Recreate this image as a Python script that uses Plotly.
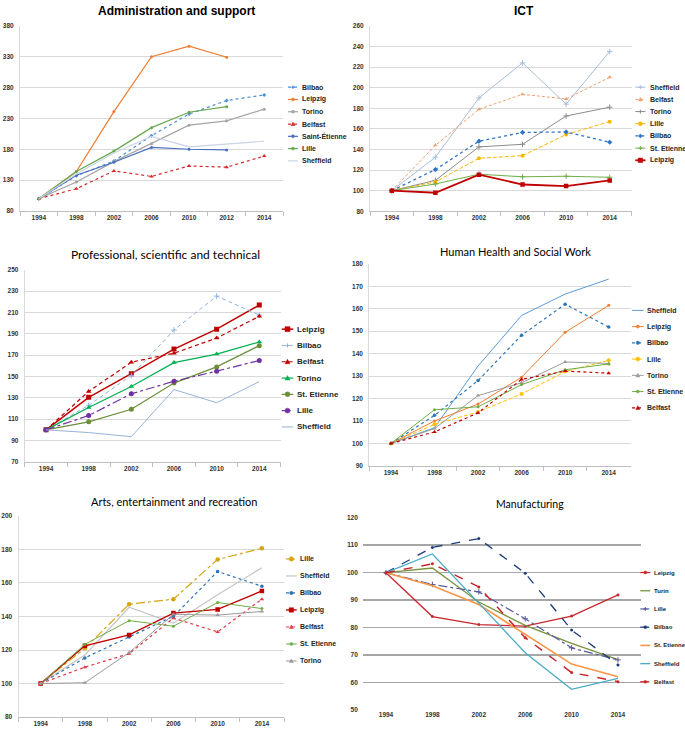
import plotly.graph_objects as go

# ---------------- DATA ----------------
ADMIN_YEARS = ["1994", "1998", "2002", "2006", "2010", "2012", "2014"]
ADMIN_BILBAO = [100, 137, 161, 202, 237, 259, 268]
ADMIN_LEIPZIG = [100, 144, 241, 330, 347, 329, None]
ADMIN_TORINO = [100, 127, 160, 189, 219, 226, 245]
ADMIN_BELFAST = [100, 116, 145, 136, 153, 151, 169]
ADMIN_SAINT_ETIENNE = [100, 138, 159, 183, 180, 179, None]
ADMIN_LILLE = [100, 144, 177, 215, 240, 249, None]
ADMIN_SHEFFIELD = [100, 140, 174, 201, 184, 188, 193]

ICT_YEARS = ["1994", "1998", "2002", "2006", "2010", "2014"]
ICT_SHEFFIELD = [100, 132.5, 190, 224, 184, 235]
ICT_BELFAST = [100, 144, 179, 193.5, 189, 210]
ICT_TORINO = [100, 110, 142.5, 145, 172.5, 181]
ICT_LILLE = [100, 108.5, 131.5, 134, 154.5, 167]
ICT_BILBAO = [100, 120.5, 148, 156.5, 157, 147]
ICT_ST_ETIENNE = [100, 106.5, 116, 113.5, 114, 113]
ICT_LEIPZIG = [100, 98, 115.5, 106, 104.5, 110]

PROF_YEARS = ["1994", "1998", "2002", "2006", "2010", "2014"]
PROF_LEIPZIG = [100, 130.5, 152.6, 175.7, 194.3, 216.9]
PROF_BILBAO = [100, 123, 151, 193.5, 225.3, 207.6]
PROF_BELFAST = [100, 136, 163.4, 171.8, 186, 206.4]
PROF_TORINO = [100, 121, 140.6, 163, 171, 182.3]
PROF_ST_ETIENNE = [100, 107.5, 119.3, 143.8, 159, 178.9]
PROF_LILLE = [100, 113.4, 133.8, 145.5, 155, 165]
PROF_SHEFFIELD = [100, 97.5, 93.6, 137.8, 125.4, 145.2]

HEALTH_YEARS = ["1994", "1998", "2002", "2006", "2010", "2014"]
HEALTH_SHEFFIELD = [100, 107, 134.5, 157, 166.5, 173.2]
HEALTH_LEIPZIG = [100, 110, 117.5, 129.5, 149.5, 161.5]
HEALTH_BILBAO = [100, 112.5, 128, 148.2, 162, 151.8]
HEALTH_LILLE = [100, 108.5, 114, 122, 132, 137]
HEALTH_TORINO = [100, 106.6, 121.3, 127, 136.3, 135.6]
HEALTH_ST_ETIENNE = [100, 115, 116.3, 126.2, 132.8, 135.4]
HEALTH_BELFAST = [100, 105.1, 113.6, 128.5, 132.2, 131.3]

ARTS_YEARS = ["1994", "1998", "2002", "2006", "2010", "2014"]
ARTS_LILLE = [100, 121, 147.3, 150.3, 174, 180.6]
ARTS_SHEFFIELD = [100, 117, 145.5, 136, 153, 169]
ARTS_BILBAO = [100, 115.3, 127.8, 140, 166.8, 158]
ARTS_LEIPZIG = [100, 122.5, 129, 142, 144.2, 155.2]
ARTS_BELFAST = [100, 109.8, 117.8, 139, 130.8, 150.3]
ARTS_ST_ETIENNE = [100, 123.4, 137.5, 134.2, 148.3, 144.7]
ARTS_TORINO = [100, 100.5, 118.5, 141.3, 140.8, 143]

MANUF_YEARS = ["1994", "1998", "2002", "2006", "2010", "2014"]
MANUF_LEIPZIG = [100, 84, 81.1, 80.5, 84.2, 91.9]
MANUF_TURIN = [100, 101.7, 89.3, 80.8, 74.2, 68.3]
MANUF_LILLE = [100, 95.7, 93, 83.2, 72.6, 68.2]
MANUF_BILBAO = [100, 109.2, 112.4, 99.8, 79.1, 66.4]
MANUF_ST_ETIENNE = [100, 95.2, 88.4, 77.5, 66.7, 62.1]
MANUF_SHEFFIELD = [100, 106.8, 88.9, 70.8, 57.5, 61.5]
MANUF_BELFAST = [100, 103.2, 94.8, 76.3, 63.6, 60.3]

# ---------------- GEOMETRY / STYLE ----------------
W, H = 685, 734


def fx(px):
    return px / W


def fy(py):
    return 1 - py / H


# style: (color, dash, width, symbol, msize)
PANELS = [
    dict(title="<b>Administration and support</b>", tfont="Liberation Sans", tsize=12,
         tx=176, ty=7, years=ADMIN_YEARS, x=(20, 283), y=(22, 209), yr=(80, 380), dtick=50,
         leg=dict(x0=288, x1=298, tx=299.5, y0=84, dy=12.4, fs=7),
         series=[
             ("Bilbao", ADMIN_BILBAO, ("#4a8fd4", "dot", 1.2, "diamond", 3)),
             ("Leipzig", ADMIN_LEIPZIG, ("#ed7d31", "solid", 1.2, "circle", 3)),
             ("Torino", ADMIN_TORINO, ("#a5a5a5", "solid", 1.2, "circle", 3)),
             ("Belfast", ADMIN_BELFAST, ("#d42a2a", "dot", 1.2, "triangle-up", 4)),
             ("Saint-Étienne", ADMIN_SAINT_ETIENNE, ("#4a6fc0", "solid", 1.2, "circle", 3)),
             ("Lille", ADMIN_LILLE, ("#6aa84f", "solid", 1.2, "circle", 3)),
             ("Sheffield", ADMIN_SHEFFIELD, ("#c9d3e6", "solid", 1.2, None, 0)),
         ]),
    dict(title="<b>ICT</b>", tfont="Liberation Sans", tsize=12,
         tx=524, ty=7, years=ICT_YEARS, x=(370, 631.5), y=(22, 209.3), yr=(80, 260), dtick=20,
         leg=dict(x0=635.3, x1=645.5, tx=648, y0=84, dy=12.3, fs=7),
         series=[
             ("Sheffield", ICT_SHEFFIELD, ("#a9bcd9", "solid", 1.0, "cross-thin", 4)),
             ("Belfast", ICT_BELFAST, ("#f0a070", "3px,2px", 1.0, "triangle-up", 4)),
             ("Torino", ICT_TORINO, ("#8c8c8c", "solid", 1.0, "cross-thin", 4)),
             ("Lille", ICT_LILLE, ("#f5b800", "4px,2px", 1.0, "circle", 4)),
             ("Bilbao", ICT_BILBAO, ("#2e75c6", "dot", 1.3, "diamond", 4)),
             ("St. Etienne", ICT_ST_ETIENNE, ("#70ad47", "solid", 1.0, "cross-thin", 4)),
             ("Leipzig", ICT_LEIPZIG, ("#c00000", "solid", 1.8, "square", 4.5)),
         ]),
    dict(title="Professional, scientific and technical", tfont="Lato", tsize=12,
         tx=165.5, ty=252.5, years=PROF_YEARS, x=(24.7, 280.6), y=(268.3, 462.3), yr=(70, 250), dtick=20,
         leg=dict(x0=281.7, x1=293.3, tx=295.3, y0=328.3, dy=16.45, fs=8),
         series=[
             ("Leipzig", PROF_LEIPZIG, ("#c00000", "solid", 1.5, "square", 5)),
             ("Bilbao", PROF_BILBAO, ("#8fb4e3", "4px,3px", 1.0, "cross-thin", 4)),
             ("Belfast", PROF_BELFAST, ("#c00000", "4px,3px", 1.2, "triangle-up", 5)),
             ("Torino", PROF_TORINO, ("#00b050", "solid", 1.2, "triangle-up", 5)),
             ("St. Etienne", PROF_ST_ETIENNE, ("#6b8e3a", "solid", 1.2, "circle", 5)),
             ("Lille", PROF_LILLE, ("#7030a0", "dashdot", 1.2, "circle", 5)),
             ("Sheffield", PROF_SHEFFIELD, ("#95b3d7", "solid", 1.0, None, 0)),
         ]),
    dict(title="Human Health and Social Work", tfont="Lato", tsize=11,
         tx=515.3, ty=250, years=HEALTH_YEARS, x=(369.2, 630.5), y=(262.3, 466.3), yr=(90, 180), dtick=10,
         leg=dict(x0=632, x1=643.7, tx=645, y0=309.3, dy=16.4, fs=7),
         series=[
             ("Sheffield", HEALTH_SHEFFIELD, ("#5b9bd5", "solid", 1.0, None, 0)),
             ("Leipzig", HEALTH_LEIPZIG, ("#ed7d31", "solid", 1.0, "circle", 3)),
             ("Bilbao", HEALTH_BILBAO, ("#2e75b6", "dot", 1.2, "circle", 3.5)),
             ("Lille", HEALTH_LILLE, ("#ffc000", "4px,2px", 1.0, "circle", 4)),
             ("Torino", HEALTH_TORINO, ("#9a9a9a", "solid", 1.0, "triangle-up", 4)),
             ("St. Etienne", HEALTH_ST_ETIENNE, ("#70ad47", "solid", 1.0, "circle", 3)),
             ("Belfast", HEALTH_BELFAST, ("#c00000", "dot", 1.2, "triangle-up", 4)),
         ]),
    dict(title="Arts, entertainment and recreation", tfont="Lato", tsize=11,
         tx=174, ty=502.5, years=ARTS_YEARS, x=(18.5, 284), y=(516.7, 720), yr=(80, 200), dtick=20,
         leg=dict(x0=286, x1=296.7, tx=298.3, y0=560.3, dy=17.17, fs=7),
         series=[
             ("Lille", ARTS_LILLE, ("#d4a514", "dashdot", 1.2, "circle", 4.5)),
             ("Sheffield", ARTS_SHEFFIELD, ("#c4c4c4", "solid", 1.2, None, 0)),
             ("Bilbao", ARTS_BILBAO, ("#2e75b6", "dot", 1.2, "circle", 3.5)),
             ("Leipzig", ARTS_LEIPZIG, ("#c00000", "solid", 1.4, "square", 4.5)),
             ("Belfast", ARTS_BELFAST, ("#e03a4a", "dot", 1.2, "triangle-up", 4)),
             ("St. Etienne", ARTS_ST_ETIENNE, ("#70ad47", "solid", 1.0, "circle", 3)),
             ("Torino", ARTS_TORINO, ("#9a9a9a", "solid", 1.0, "triangle-up", 4)),
         ]),
    dict(title="Manufacturing", tfont="Lato", tsize=10.5,
         tx=530.3, ty=505, years=MANUF_YEARS, x=(362.8, 641.2), y=(518.7, 712.7), yr=(50, 120), dtick=10,
         leg=dict(x0=640.3, x1=650.3, tx=651.5, y0=574, dy=18.4, fs=6),
         series=[
             ("Leipzig", MANUF_LEIPZIG, ("#c8282d", "solid", 1.3, "circle", 3)),
             ("Turin", MANUF_TURIN, ("#77933c", "solid", 1.3, None, 0)),
             ("Lille", MANUF_LILLE, ("#5a5aa0", "dashdot", 1.2, "cross-thin", 4)),
             ("Bilbao", MANUF_BILBAO, ("#1f3c78", "dash", 1.3, "circle", 3)),
             ("St. Etienne", MANUF_ST_ETIENNE, ("#f79646", "solid", 1.6, None, 0)),
             ("Sheffield", MANUF_SHEFFIELD, ("#4bacc6", "solid", 1.3, None, 0)),
             ("Belfast", MANUF_BELFAST, ("#c8282d", "dash", 1.5, "circle", 3)),
         ],
         grid="#a6a6a6", gridw=1.5),
]

TICK_FONT = dict(family="Liberation Sans", size=6.5, color="#333333", weight="bold")

fig = go.Figure()
shapes = []
annotations = []
layout = {}


def legend_marker(cx, cy, color, symbol, size):
    r = max(size, 3) / 2.0
    if symbol == "circle":
        shapes.append(dict(type="circle", xref="paper", yref="paper",
                           x0=fx(cx - r), x1=fx(cx + r), y0=fy(cy + r), y1=fy(cy - r),
                           fillcolor=color, line=dict(color=color, width=0.5)))
    elif symbol == "square":
        shapes.append(dict(type="rect", xref="paper", yref="paper",
                           x0=fx(cx - r), x1=fx(cx + r), y0=fy(cy + r), y1=fy(cy - r),
                           fillcolor=color, line=dict(color=color, width=0.5)))
    elif symbol in ("triangle-up", "diamond"):
        if symbol == "triangle-up":
            pts = [(cx, cy - r), (cx + r, cy + r * 0.8), (cx - r, cy + r * 0.8)]
        else:
            pts = [(cx, cy - r), (cx + r, cy), (cx, cy + r), (cx - r, cy)]
        path = "M " + " L ".join(f"{fx(a):.5f},{fy(b):.5f}" for a, b in pts) + " Z"
        shapes.append(dict(type="path", xref="paper", yref="paper", path=path,
                           fillcolor=color, line=dict(color=color, width=0.5)))
    elif symbol == "cross-thin":
        shapes.append(dict(type="line", xref="paper", yref="paper",
                           x0=fx(cx - r), x1=fx(cx + r), y0=fy(cy), y1=fy(cy),
                           line=dict(color=color, width=1)))
        shapes.append(dict(type="line", xref="paper", yref="paper",
                           x0=fx(cx), x1=fx(cx), y0=fy(cy - r), y1=fy(cy + r),
                           line=dict(color=color, width=1)))


for i, p in enumerate(PANELS, start=1):
    xa = "x" if i == 1 else f"x{i}"
    ya = "y" if i == 1 else f"y{i}"
    for name, vals, (color, dash, width, symbol, msize) in p["series"]:
        mode = "lines+markers" if symbol else "lines"
        marker = dict(size=msize, color=color, symbol=symbol or "circle")
        if symbol == "cross-thin":
            marker["line"] = dict(color=color, width=1)
        fig.add_trace(go.Scatter(x=p["years"], y=vals, name=name, mode=mode,
                                 line=dict(color=color, dash=dash, width=width),
                                 marker=marker, xaxis=xa, yaxis=ya, showlegend=False))
    n = len(p["years"])
    grid = p.get("grid", "#d9d9d9")
    manuf = "grid" in p
    layout["xaxis" if i == 1 else f"xaxis{i}"] = dict(
        type="category", domain=[fx(p["x"][0]), fx(p["x"][1])], range=[-0.5, n - 0.5],
        anchor=ya, tickson="boundaries", ticks="" if manuf else "outside", ticklen=4,
        tickcolor="#bfbfbf", showline=not manuf, linecolor="#bfbfbf", linewidth=1,
        showgrid=False, tickfont=TICK_FONT, fixedrange=True)
    layout["yaxis" if i == 1 else f"yaxis{i}"] = dict(
        domain=[fy(p["y"][1]), fy(p["y"][0])], range=list(p["yr"]), dtick=p["dtick"],
        tick0=p["yr"][0], tickmode="linear",
        anchor=xa, showgrid=True, gridcolor=grid, gridwidth=p.get("gridw", 1),
        zeroline=False, showline=not manuf, linecolor="#d9d9d9", ticks="",
        tickfont=TICK_FONT, ticklabelstandoff=4, fixedrange=True)
    annotations.append(dict(text=p["title"], xref="paper", yref="paper", x=fx(p["tx"]), y=fy(p["ty"]),
                            xanchor="center", yanchor="middle", showarrow=False,
                            font=dict(family=p["tfont"], size=p["tsize"], color="#000000")))
    lg = p["leg"]
    for k, (name, vals, (color, dash, width, symbol, msize)) in enumerate(p["series"]):
        cy = lg["y0"] + k * lg["dy"]
        shapes.append(dict(type="line", xref="paper", yref="paper",
                           x0=fx(lg["x0"]), x1=fx(lg["x1"]), y0=fy(cy), y1=fy(cy),
                           line=dict(color=color, dash=dash, width=width)))
        if symbol:
            legend_marker((lg["x0"] + lg["x1"]) / 2, cy, color, symbol, msize)
        annotations.append(dict(text=f"<b>{name}</b>", xref="paper", yref="paper",
                                x=fx(lg["tx"]), y=fy(cy), xanchor="left", yanchor="middle",
                                showarrow=False,
                                font=dict(family="Liberation Sans", size=lg["fs"], color="#262626")))

fig.update_layout(width=W, height=H, margin=dict(l=0, r=0, t=0, b=0),
                  paper_bgcolor="white", plot_bgcolor="white", showlegend=False,
                  shapes=shapes, annotations=annotations, **layout)

fig.write_html("out.html", config={"displayModeBar": False, "staticPlot": True},
               post_script="document.body.style.margin='0';document.body.style.overflow='hidden';")
